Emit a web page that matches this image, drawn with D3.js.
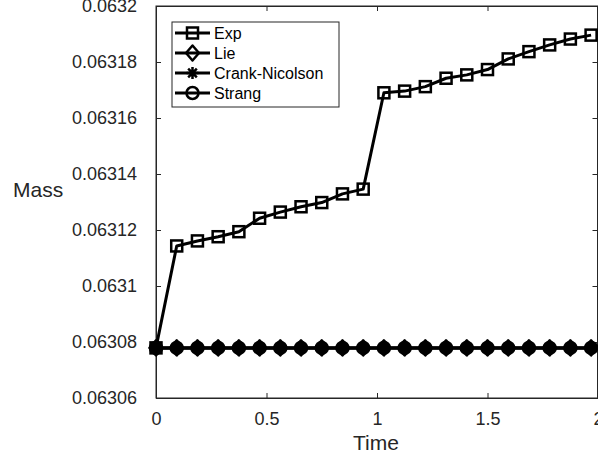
<!DOCTYPE html>
<html>
<head>
<meta charset="utf-8">
<script src="https://cdn.jsdelivr.net/npm/d3@7"></script>
<style>
  html, body { margin: 0; padding: 0; background: #fff; }
  svg { display: block; font-family: "Liberation Sans", Arial, Helvetica, sans-serif; }
</style>
</head>
<body>
<svg id="chart" width="598" height="460"></svg>
<script>
// Time grid: 22 steps of 3/32
const time = [0, 0.09375, 0.1875, 0.28125, 0.375, 0.46875, 0.5625, 0.65625, 0.75, 0.84375,
  0.9375, 1.03125, 1.125, 1.21875, 1.3125, 1.40625, 1.5, 1.59375, 1.6875, 1.78125, 1.875, 1.96875];

// Mass per scheme
const massExp = [0.0630779, 0.0631143, 0.0631161, 0.0631176, 0.0631194, 0.0631242, 0.0631264,
  0.0631283, 0.0631298, 0.0631329, 0.0631346, 0.0631690, 0.0631696, 0.0631712, 0.0631742,
  0.0631754, 0.0631773, 0.0631811, 0.0631837, 0.0631861, 0.0631882, 0.0631896];
const massLie = time.map(() => 0.0630779);
const massCN = time.map(() => 0.0630779);
const massStrang = time.map(() => 0.0630779);

const seriesNames = ["Exp", "Lie", "Crank-Nicolson", "Strang"];
const seriesMarkers = ["square", "diamond", "asterisk", "circle"];

const xTicks = [0, 0.5, 1, 1.5, 2];
const xTickLabels = ["0", "0.5", "1", "1.5", "2"];
const yTicks = [0.06306, 0.06308, 0.0631, 0.06312, 0.06314, 0.06316, 0.06318, 0.0632];
const yTickLabels = ["0.06306", "0.06308", "0.0631", "0.06312", "0.06314", "0.06316", "0.06318", "0.0632"];

const axisColor = "#262626";
const svg = d3.select("#chart");
const plot = { left: 156, top: 6, right: 598, bottom: 398 };

const x = d3.scaleLinear().domain([0, 2]).range([plot.left, plot.right]);
const y = d3.scaleLinear().domain([0.06306, 0.0632]).range([plot.bottom, plot.top]);

// Box and axes (ticks inside, MATLAB style)
svg.append("rect")
  .attr("x", plot.left).attr("y", plot.top)
  .attr("width", plot.right - plot.left - 0.5).attr("height", plot.bottom - plot.top)
  .attr("fill", "none").attr("stroke", axisColor).attr("stroke-width", 1);

const xAxis = d3.axisBottom(x).tickValues(xTicks)
  .tickFormat((d, i) => xTickLabels[i]).tickSizeInner(-5).tickSizeOuter(0).tickPadding(14);
const yAxis = d3.axisLeft(y).tickValues(yTicks)
  .tickFormat((d, i) => yTickLabels[i]).tickSizeInner(-5).tickSizeOuter(0).tickPadding(19);
const xAxisTop = d3.axisTop(x).tickValues(xTicks).tickFormat("").tickSizeInner(-5).tickSizeOuter(0);
const yAxisRight = d3.axisRight(y).tickValues(yTicks).tickFormat("").tickSizeInner(-5).tickSizeOuter(0);

function styleAxis(g) {
  g.select(".domain").attr("stroke", axisColor);
  g.selectAll(".tick line").attr("stroke", axisColor);
  g.selectAll(".tick text").attr("fill", axisColor).style("font-size", "18px")
    .style("font-family", "'Liberation Sans', Arial, sans-serif");
}
svg.append("g").attr("transform", `translate(0,${plot.bottom})`).call(xAxis).call(styleAxis);
svg.append("g").attr("transform", `translate(${plot.left},0)`).call(yAxis).call(styleAxis);
svg.append("g").attr("transform", `translate(0,${plot.top})`).call(xAxisTop).call(styleAxis);
svg.append("g").attr("transform", `translate(${plot.right - 0.5},0)`).call(yAxisRight).call(styleAxis);

// Axis labels
svg.append("text").attr("x", 376).attr("y", 450).attr("text-anchor", "middle")
  .attr("fill", axisColor).style("font-size", "21px").text("Time");
svg.append("text").attr("x", 13).attr("y", 197)
  .attr("fill", axisColor).style("font-size", "21px").text("Mass");

// Marker drawing
function drawMarker(g, type, cx, cy, filled) {
  const fill = filled ? "#000" : "none";
  if (type === "square") {
    g.append("rect").attr("x", cx - 5.5).attr("y", cy - 5.5).attr("width", 11).attr("height", 11)
      .attr("fill", fill).attr("stroke", "#000").attr("stroke-width", 2.5);
  } else if (type === "diamond") {
    g.append("path").attr("d", `M${cx},${cy - 7.5}L${cx + 6.5},${cy}L${cx},${cy + 7.5}L${cx - 6.5},${cy}Z`)
      .attr("fill", fill).attr("stroke", "#000").attr("stroke-width", 2.5).attr("stroke-linejoin", "round");
  } else if (type === "circle") {
    g.append("circle").attr("cx", cx).attr("cy", cy).attr("r", 6)
      .attr("fill", fill).attr("stroke", "#000").attr("stroke-width", 2.5);
  } else if (type === "asterisk") {
    const r = 6, d = r * 0.72;
    const p = `M${cx - r},${cy}L${cx + r},${cy}M${cx},${cy - r}L${cx},${cy + r}` +
      `M${cx - d},${cy - d}L${cx + d},${cy + d}M${cx - d},${cy + d}L${cx + d},${cy - d}`;
    g.append("path").attr("d", p).attr("stroke", "#000").attr("stroke-width", 2.5);
  }
}

const seriesValues = [massExp, massLie, massCN, massStrang];
const line = d3.line().x(d => x(d[0])).y(d => y(d[1]));

seriesValues.forEach((vals, s) => {
  const pts = time.map((t, i) => [t, vals[i]]);
  const g = svg.append("g");
  g.append("path").attr("d", line(pts)).attr("fill", "none")
    .attr("stroke", "#000").attr("stroke-width", 3).attr("stroke-linejoin", "round");
  // overlapping markers of the stacked schemes merge into solid blobs
  const filled = s === 1 || s === 3;
  pts.forEach(p => drawMarker(g, seriesMarkers[s], x(p[0]), y(p[1]), filled));
});

// Legend
const leg = svg.append("g");
leg.append("rect").attr("x", 172).attr("y", 22).attr("width", 167).attr("height", 85)
  .attr("fill", "#fff").attr("stroke", axisColor).attr("stroke-width", 1);
seriesNames.forEach((name, i) => {
  const cy = 33 + i * 20;
  leg.append("line").attr("x1", 175).attr("x2", 210).attr("y1", cy).attr("y2", cy)
    .attr("stroke", "#000").attr("stroke-width", 3);
  drawMarker(leg, seriesMarkers[i], 192.5, cy, false);
  leg.append("text").attr("x", 214).attr("y", cy).attr("dy", "0.35em")
    .attr("fill", "#000").style("font-size", "16px").text(name);
});
</script>
</body>
</html>
